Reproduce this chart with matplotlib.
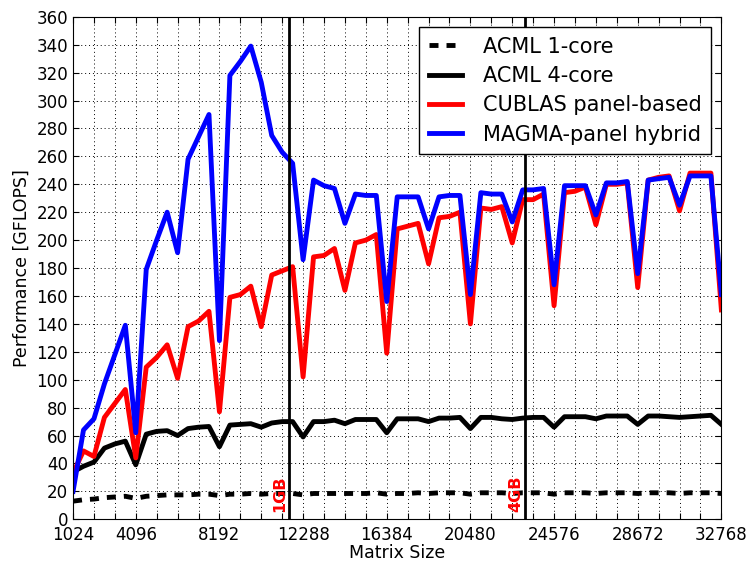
import numpy as np
import matplotlib
matplotlib.use("Agg")
import matplotlib.pyplot as plt

# matrix sizes, 512 apart
sizes = np.arange(1024, 32768 + 1, 512)

acml_1core = [13, 14, 14.5, 15.5, 16, 16.5, 15, 16.5, 17, 17.5, 17.5, 17.5, 18, 18,
              17, 18, 18, 18.5, 18, 18.5, 18.5, 18.5, 17.5, 18.5, 18.5, 18.5, 18.5, 18.5,
              18.5, 19, 18, 18.5, 18.5, 19, 18.5, 19, 19, 19, 18, 19, 19, 19,
              18.5, 19, 19, 19, 18, 19, 19, 19, 18.5, 19, 19, 19, 18.5, 19,
              19, 19, 18.5, 19, 19, 19, 18.5]

acml_4core = [34, 38, 41, 51, 54, 56, 39, 61, 63, 63.5, 60, 65, 66, 66.5,
              52, 67.5, 68, 68.5, 66, 69, 70, 70, 59, 70, 70, 71, 68.5, 71.5,
              71.5, 71.5, 62, 72, 72, 72, 70, 72.5, 72.5, 73, 65, 73, 73, 72,
              71.5, 72.5, 73, 73, 66, 73.5, 73.5, 73.5, 72, 74, 74, 74, 68, 74,
              74, 73.5, 73, 73.5, 74, 74.5, 68]

cublas = [33, 49, 45, 73, 83, 93, 44, 109, 116, 125, 101, 138, 142, 149,
          77, 159, 161, 167, 138, 175, 178, 181, 102, 188, 189, 194, 164, 198,
          200, 204, 119, 208, 210, 212, 183, 216, 217, 220, 140, 223, 222, 224,
          198, 229, 229, 233, 153, 234, 235, 238, 211, 240, 240, 241, 166, 243,
          245, 246, 221, 248, 248, 248, 150]

magma = [20, 64, 72, 97, 118, 139, 62, 179, 200, 220, 191, 258, 274, 290,
         128, 318, 328, 339, 313, 275, 263, 255, 186, 243, 239, 237, 212, 233,
         232, 232, 156, 231, 231, 231, 208, 231, 232, 232, 161, 234, 233, 233,
         213, 236, 236, 237, 168, 239, 239, 239, 218, 241, 241, 242, 176, 243,
         244, 245, 225, 246, 246, 246, 161]

# sizes where a double matrix fills 1GB and 4GB
mem_sizes = [11585, 23170]
mem_labels = ["1GB", "4GB"]

xticks = list(range(1024, 32768 + 1, 1024))
xtick_labels = [str(t) if (t == 1024 or t % 4096 == 0) else "" for t in xticks]

fig = plt.figure(figsize=(7.53, 5.63), dpi=100)
ax = fig.add_axes([0.097, 0.0776, 0.861, 0.8926])

lw = 3.5
l1, = ax.plot(sizes, acml_1core, color="black", lw=lw, dashes=(1.85, 1.65))
l2, = ax.plot(sizes, acml_4core, color="black", lw=lw)
l3, = ax.plot(sizes, cublas, color="red", lw=lw)
l4, = ax.plot(sizes, magma, color="blue", lw=lw)

for xs, lab in zip(mem_sizes, mem_labels):
    ax.axvline(xs, color="black", lw=2)
    ax.text(xs - 100, 5.5, lab, rotation=90, color="red", fontweight="bold",
            fontsize=11.5, ha="right", va="bottom")

ax.set_xlim(1024, 32768)
ax.set_ylim(0, 360)
ax.set_xticks(xticks)
ax.set_xticklabels(xtick_labels)
ax.set_yticks(range(0, 361, 20))
ax.tick_params(direction="in", top=True, right=True, labelsize=12, length=4)
ax.tick_params(axis="x", pad=5)
ax.grid(True, color="black", lw=0.7, dashes=(1, 3))

ax.set_xlabel("Matrix Size", fontsize=12.5, labelpad=0)
ax.set_ylabel("Performance [GFLOPS]", fontsize=12.5)

leg = ax.legend((l1, l2, l3, l4),
                ("ACML 1-core", "ACML 4-core", "CUBLAS panel-based", "MAGMA-panel hybrid"),
                loc="upper right", fontsize=15, fancybox=False, framealpha=1,
                edgecolor="black", labelspacing=0.45, handlelength=1.6,
                handletextpad=1.0, borderpad=0.45)
leg.get_frame().set_linewidth(1)

fig.savefig("out.png", dpi=100)
